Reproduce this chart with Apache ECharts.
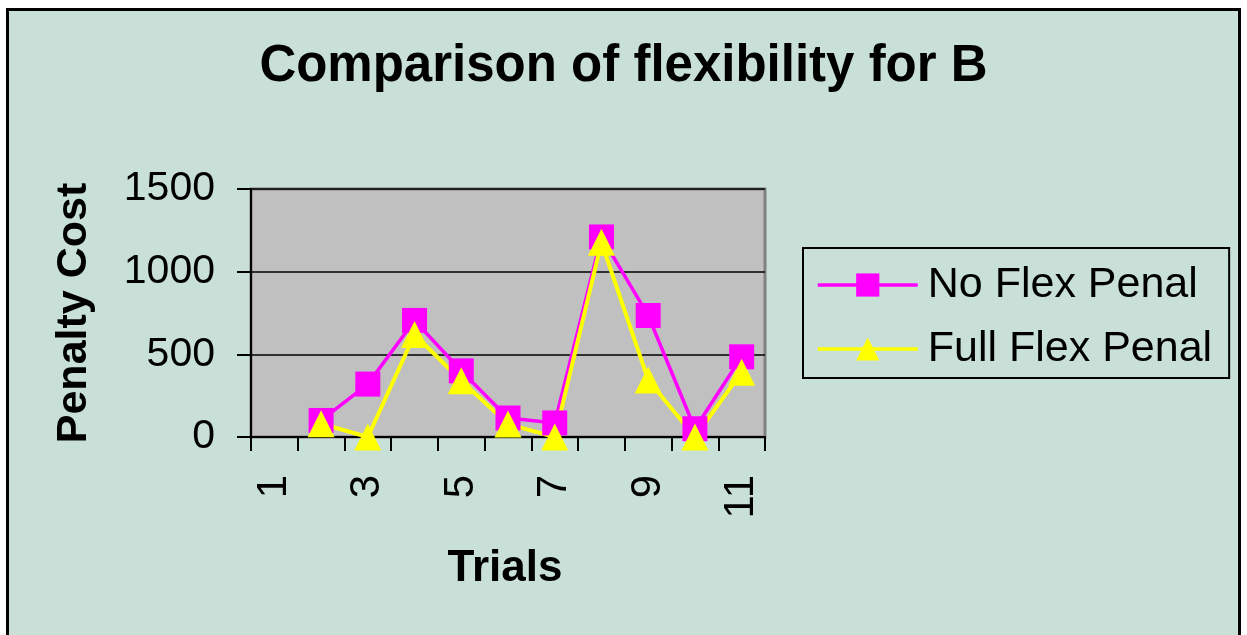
<!DOCTYPE html>
<html>
<head>
<meta charset="utf-8">
<script src="https://cdn.jsdelivr.net/npm/echarts@6/dist/echarts.min.js"></script>
<style>
html,body{margin:0;padding:0;background:#fff;}
#chart{width:1247px;height:635px;}
</style>
</head>
<body>
<div id="chart"></div>
<script>
const categories = ['1','2','3','4','5','6','7','8','9','10','11'];
const noFlexPenal = [null, 100, 320, 705, 400, 115, 85, 1210, 735, 50, 485];
const fullFlexPenal = [null, 80, 0, 620, 340, 78, 0, 1178, 345, 0, 392];
const seriesNames = ['No Flex Penal', 'Full Flex Penal'];
const titleText = 'Comparison of flexibility for B';
const xName = 'Trials';
const yName = 'Penalty Cost';

const FONT = '"Liberation Sans", Arial, sans-serif';
const chart = echarts.init(document.getElementById('chart'), null, {renderer: 'canvas'});
chart.setOption({
  backgroundColor: '#ffffff',
  animation: false,
  graphic: [{
    type: 'rect', z: -100, silent: true,
    shape: {x: 7.5, y: 9.5, width: 1232, height: 700},
    style: {fill: '#C8E0D8', stroke: '#000', lineWidth: 3}
  }],
  title: {
    text: titleText, left: 'center', top: 36,
    textStyle: {fontFamily: FONT, fontWeight: 'bold', fontSize: 51, color: '#000'}
  },
  legend: {
    orient: 'vertical', left: 803, top: 248,
    padding: [13, 17, 5, 13], itemGap: 16,
    itemWidth: 100, itemHeight: 29,
    borderColor: '#000', borderWidth: 2, backgroundColor: 'transparent',
    lineStyle: {width: 3.5},
    textStyle: {fontFamily: FONT, fontSize: 43, color: '#000', lineHeight: 48, padding: [0, 0, 0, 5]},
    data: seriesNames
  },
  grid: {
    left: 251, top: 189, right: 482, bottom: 198,
    show: true, backgroundColor: '#C0C0C0', borderColor: '#808080', borderWidth: 3
  },
  xAxis: {
    type: 'category', data: categories, boundaryGap: true,
    name: xName, nameLocation: 'middle', nameGap: 110,
    nameTextStyle: {fontFamily: FONT, fontWeight: 'bold', fontSize: 44, color: '#000', padding: [0, 6, 0, 0]},
    axisLine: {lineStyle: {color: '#000', width: 2}},
    axisTick: {show: true, interval: 0, length: 14, lineStyle: {color: '#000', width: 2}},
    axisLabel: {interval: 1, rotate: 90, margin: 38, fontFamily: FONT, fontSize: 42, color: '#000'},
    splitLine: {show: false}
  },
  yAxis: {
    type: 'value', min: 0, max: 1500, interval: 500,
    name: yName, nameLocation: 'middle', nameGap: 155, nameRotate: 90,
    nameTextStyle: {fontFamily: FONT, fontWeight: 'bold', fontSize: 43, color: '#000'},
    axisLine: {show: true, lineStyle: {color: '#000', width: 2}},
    axisTick: {show: true, length: 14, lineStyle: {color: '#000', width: 2}},
    axisLabel: {margin: 36, fontFamily: FONT, fontSize: 41, color: '#000', formatter: v => String(v)},
    splitLine: {show: true, lineStyle: {color: '#000', width: 1.5}}
  },
  series: [{
    name: seriesNames[0], type: 'line', data: noFlexPenal,
    symbol: 'rect', symbolSize: 25, connectNulls: false,
    itemStyle: {color: '#FF00FF'},
    lineStyle: {color: '#FF00FF', width: 3.5}
  }, {
    name: seriesNames[1], type: 'line', data: fullFlexPenal,
    symbol: 'triangle', symbolSize: 27, connectNulls: false,
    itemStyle: {color: '#FFFF00'},
    lineStyle: {color: '#FFFF00', width: 4}
  }]
});
</script>
</body>
</html>
